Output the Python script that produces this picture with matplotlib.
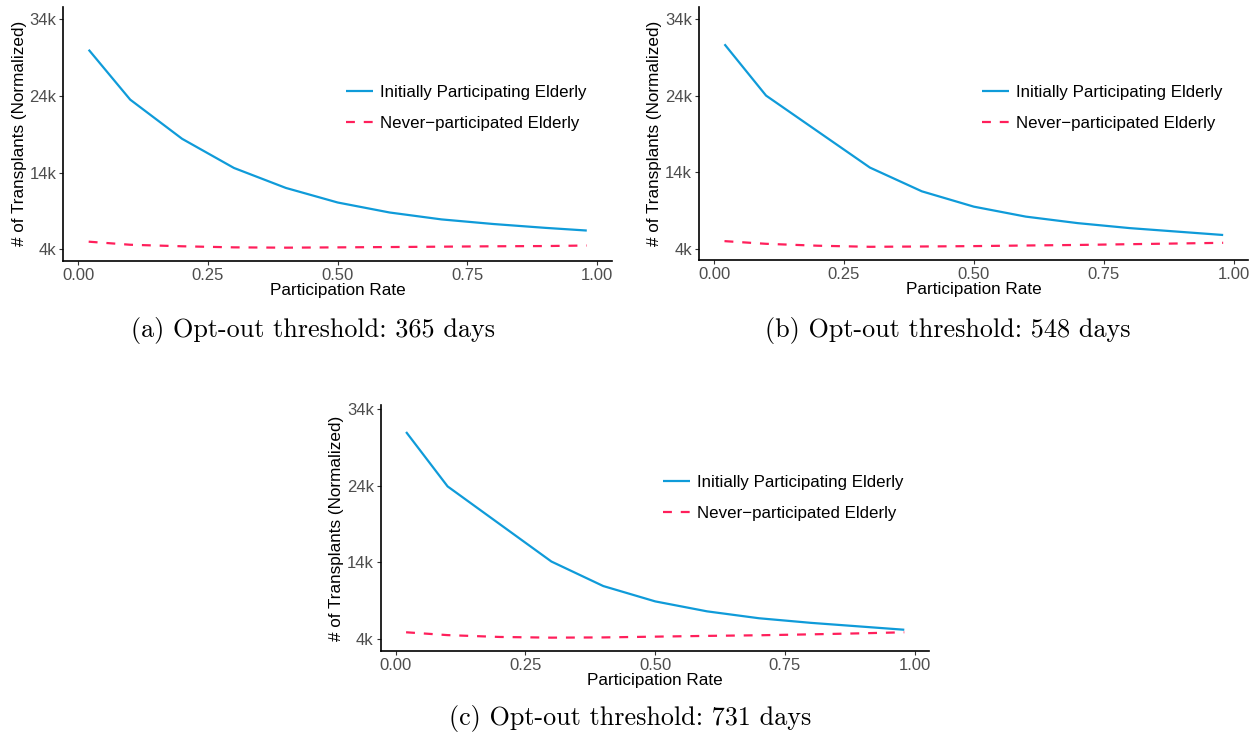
import matplotlib
matplotlib.use("Agg")
import matplotlib.pyplot as plt
from matplotlib.transforms import blended_transform_factory

# ---------------- data (thousands of transplants) ----------------
participation = [0.02, 0.1, 0.2, 0.3, 0.4, 0.5, 0.6, 0.7, 0.8, 0.9, 0.98]

init_365 = [30.0, 23.5, 18.4, 14.6, 12.0, 10.1, 8.8, 7.9, 7.3, 6.8, 6.45]
never_365 = [5.0, 4.6, 4.4, 4.26, 4.22, 4.26, 4.3, 4.35, 4.4, 4.43, 4.5]

init_548 = [30.7, 24.0, 19.3, 14.6, 11.5, 9.5, 8.2, 7.35, 6.7, 6.2, 5.8]
never_548 = [5.0, 4.65, 4.4, 4.26, 4.3, 4.35, 4.43, 4.5, 4.6, 4.7, 4.78]

init_731 = [31.0, 23.9, 19.0, 14.1, 10.9, 8.9, 7.6, 6.7, 6.1, 5.6, 5.2]
never_731 = [4.87, 4.5, 4.26, 4.17, 4.2, 4.3, 4.4, 4.48, 4.6, 4.74, 4.87]

x_ticks = [0.0, 0.25, 0.5, 0.75, 1.0]
x_tick_labels = ["0.00", "0.25", "0.50", "0.75", "1.00"]
y_ticks = [4, 14, 24, 34]
y_tick_labels = ["4k", "14k", "24k", "34k"]

series_labels = ["Initially Participating Elderly", "Never\u2212participated Elderly"]
captions = ["(a) Opt-out threshold: 365 days",
            "(b) Opt-out threshold: 548 days",
            "(c) Opt-out threshold: 731 days"]

BLUE = "#0f9bd9"
RED = "#ff1f5b"

SANS = ["Liberation Sans", "DejaVu Sans"]

fig = plt.figure(figsize=(12.55, 7.39), dpi=100)

panels = [
    ([0.0504, 0.6472, 0.4370, 0.3433], init_365, never_365, (2.52, 35.56)),
    ([0.5570, 0.6480, 0.4375, 0.3425], init_548, never_548, (2.52, 35.56)),
    ([0.3033, 0.1191, 0.4371, 0.3329], init_731, never_731, (2.43, 34.52)),
]

axes = []
for rect, init, never, ylim in panels:
    ax = fig.add_axes(rect)
    ax.plot(participation, init, color=BLUE, lw=1.6, label=series_labels[0],
            solid_capstyle="butt")
    ax.plot(participation, never, color=RED, lw=1.6, dashes=(4, 4),
            label=series_labels[1])
    ax.set_xlim(-0.029, 1.028)
    ax.set_ylim(*ylim)
    ax.set_xticks(x_ticks)
    ax.set_xticklabels(x_tick_labels, family=SANS, fontsize=12, color="#4d4d4d")
    ax.set_yticks(y_ticks)
    ax.set_yticklabels(y_tick_labels, family=SANS, fontsize=12, color="#4d4d4d")
    ax.tick_params(length=3, width=0.8, color="#333333", pad=2)
    for s in ["top", "right"]:
        ax.spines[s].set_visible(False)
    for s in ["left", "bottom"]:
        ax.spines[s].set_linewidth(1.2)
        ax.spines[s].set_color("black")
    ax.set_xlabel("Participation Rate", family=SANS, fontsize=12.3, labelpad=0)
    ax.set_ylabel("# of Transplants (Normalized)", family=SANS, fontsize=12.3,
                  labelpad=2)
    trans = blended_transform_factory(ax.transAxes, ax.transData)
    ax.legend(loc="center left", bbox_to_anchor=(0.515, 22.4),
              bbox_transform=trans, frameon=False, borderpad=0,
              borderaxespad=0, handlelength=1.6, handletextpad=0.4,
              labelspacing=0.95, prop={"family": SANS, "size": 12.2})
    axes.append(ax)

cap_font = {"family": ["cmr10", "DejaVu Serif"], "size": 18.8}
fig.text(313 / 1255, 1 - 330 / 739, captions[0], ha="center", va="center",
         fontdict=cap_font)
fig.text(948 / 1255, 1 - 330 / 739, captions[1], ha="center", va="center",
         fontdict=cap_font)
fig.text(630 / 1255, 1 - 719 / 739, captions[2], ha="center", va="center",
         fontdict=cap_font)

fig.savefig("out.png", dpi=100)
